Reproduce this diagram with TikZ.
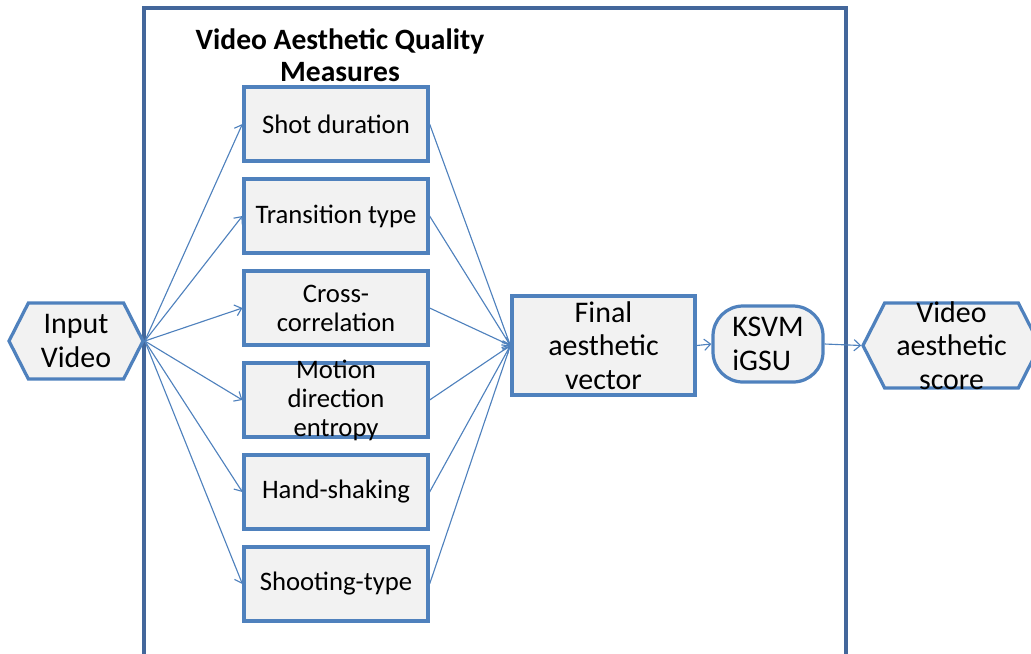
\documentclass[tikz,border=0pt]{standalone}
\usepackage{fontspec}
\setmainfont{Carlito}
\usetikzlibrary{arrows.meta,shapes.symbols}
\definecolor{boxblue}{HTML}{4F81BD}
\definecolor{boxgray}{HTML}{F2F2F2}
\definecolor{frameblue}{HTML}{43679B}
\newcommand{\smallfont}{\fontsize{19}{20.6}\selectfont}
\newcommand{\bigfont}{\fontsize{21.3}{23.8}\selectfont}
\tikzset{
  txt/.style={align=center, inner sep=0pt},
  box/.style={draw=boxblue, fill=boxgray, line width=2.3pt, inner sep=0pt},
  measure/.style={box, minimum width=4.6cm, minimum height=1.85cm,
    label={[txt, font=\smallfont]center:#1}},
  bigbox/.style={box, label={[txt, font=\bigfont]center:#1}},
  hexa/.style={box, signal, signal to=west and east, signal pointer angle=126,
    label={[txt, font=\bigfont]center:#1}},
  link/.style={boxblue, line width=0.8pt, -{Straight Barb[length=4.5pt,width=8pt]}},
}
\begin{document}
\begin{tikzpicture}
\useasboundingbox (0,0) rectangle (25.775,-16.325);
% outer frame (open at the bottom)
\draw[frameblue, line width=2.6pt] (3.6,-17) -- (3.6,-0.2) -- (21.15,-0.2) -- (21.15,-17);
\node[font=\bfseries\fontsize{21}{22.8}\selectfont, align=center] (title) at (8.5,-1.375) {Video Aesthetic Quality\\Measures};
% input and measures
\node[hexa={Input\\Video}, minimum width=3.35cm, minimum height=1.9cm] (inp) at (1.9,-8.525) {};
\node[measure={Shot duration}] (m1) at (8.4,-3.1) {};
\node[measure={Transition type}] (m2) at (8.4,-5.4) {};
\node[measure={Cross-\\correlation}] (m3) at (8.4,-7.7) {};
\node[measure={Motion\\direction\\entropy}] (m4) at (8.4,-10.0) {};
\node[measure={Hand-shaking}] (m5) at (8.4,-12.3) {};
\node[measure={Shooting-type}] (m6) at (8.4,-14.6) {};
% fusion and output
\node[bigbox={Final\\aesthetic\\vector}, minimum width=4.575cm, minimum height=2.475cm] (final) at (15.0875,-8.6375) {};
\node[box, label={[txt, font=\bigfont, align=left]center:KSVM\\iGSU}, rounded corners=0.75cm,
  minimum width=2.75cm, minimum height=1.9cm] (ksvm) at (19.2,-8.6) {};
\node[hexa={Video\\aesthetic\\score}, minimum width=4.425cm, minimum height=2.125cm] (score) at (23.7875,-8.6375) {};
\foreach \i in {1,...,6} {
  \draw[link] (inp.east) -- (m\i.west);
  \draw[link] (m\i.east) -- (final.west);
}
\draw[link] (final.east) -- (ksvm.west);
\draw[link] (ksvm.east) -- (score.west);
\end{tikzpicture}
\end{document}
